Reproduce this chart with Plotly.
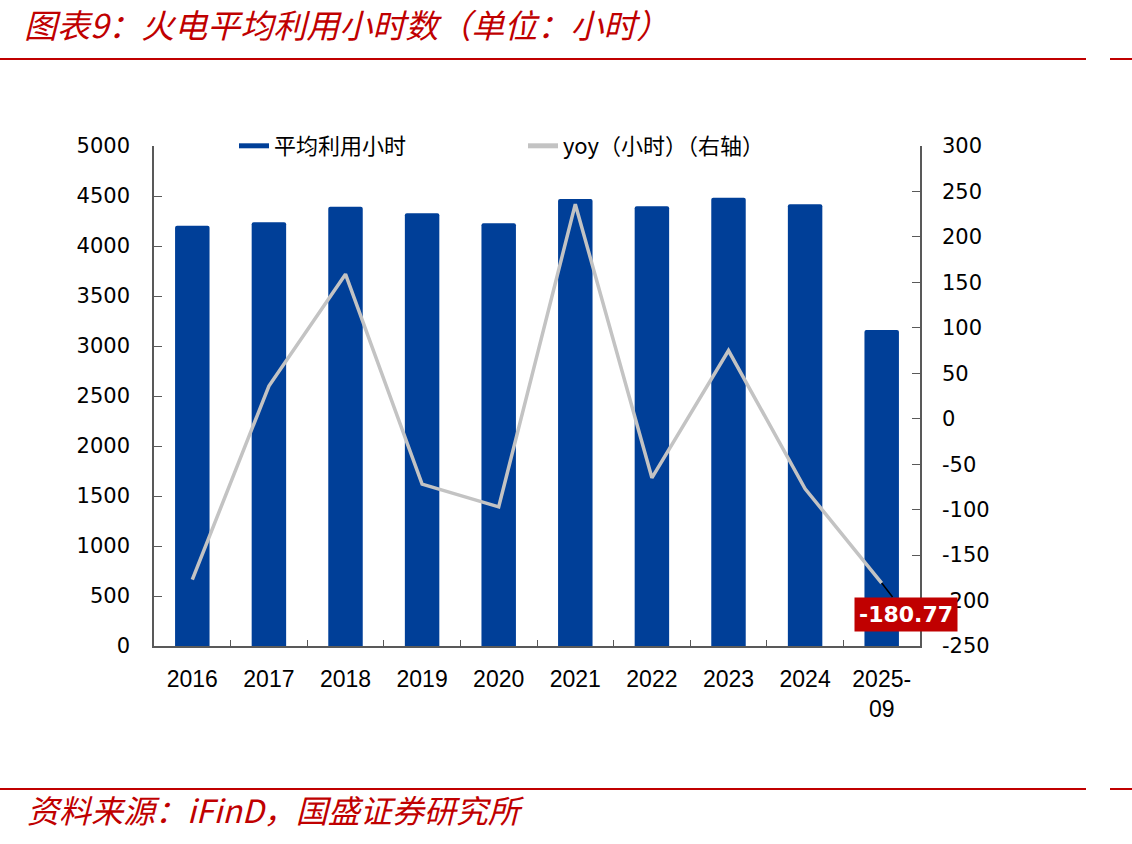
import plotly.graph_objects as go

categories = ["2016", "2017", "2018", "2019", "2020", "2021", "2022", "2023", "2024", "2025-09"]
tick_text = ["2016", "2017", "2018", "2019", "2020", "2021", "2022", "2023", "2024", "2025-<br>09"]
hours = [4203, 4237, 4393, 4327, 4227, 4470, 4397, 4483, 4417, 3160]
yoy = [-177, 36, 159, -72, -97, 236, -65, 75, -77, -180.77]
y2_ticks = [-250, -200, -150, -100, -50, 0, 50, 100, 150, 200, 250, 300]
y2_text = ["-250", "-200", "-150", "-100", "-50", "0", "50", "100", "150", "200", "250", "300"]

BLUE = "#003F98"
GRAY = "#C3C3C3"
RED = "#C00000"
AX = "#595959"
NUM_FONT = "DejaVu Sans, Verdana, sans-serif"
XFONT = "Liberation Sans, Arial, sans-serif"
CJK = "Noto Sans CJK SC, sans-serif"

W, H = 1132, 844
ml, mr, mt, mb = 154, 212, 146, 198
pw, ph = W - ml - mr, H - mt - mb


def px_x(p):
    return (p - ml) / pw


def px_y(p):
    return (H - mb - p) / ph


fig = go.Figure()
fig.add_trace(go.Bar(
    x=categories, y=hours, name="平均利用小时", showlegend=False,
    marker=dict(color=BLUE, cornerradius=2, line=dict(width=0)),
    width=0.45, yaxis="y",
))
# legend swatch for bars (wide rectangle as in the reference)
fig.add_trace(go.Scatter(
    x=[None], y=[None], name="平均利用小时", mode="lines",
    line=dict(color=BLUE, width=15), yaxis="y",
))
fig.add_trace(go.Scatter(
    x=categories, y=yoy, name="yoy（小时）（右轴）",
    mode="lines", line=dict(color=GRAY, width=3.5), yaxis="y2",
))

fig.add_annotation(
    x="2025-09", y=yoy[-1], xref="x", yref="y2",
    text="<b>-180.77</b>", showarrow=True, arrowhead=0, arrowwidth=1.5,
    arrowcolor="black", ax=24, ay=31, bgcolor=RED, borderpad=4,
    font=dict(color="white", size=22, family=NUM_FONT),
)

fig.add_annotation(
    x=px_x(22), y=px_y(24), xref="paper", yref="paper",
    text="图表9：火电平均利用小时数（单位：小时）",
    showarrow=False, xanchor="left", yanchor="middle",
    font=dict(family=CJK, size=33, color=RED, style="italic"),
)
fig.add_annotation(
    x=px_x(25), y=px_y(809), xref="paper", yref="paper",
    text="资料来源：iFinD，国盛证券研究所", showarrow=False, xanchor="left", yanchor="middle",
    font=dict(family=CJK, size=32, color=RED, style="italic"),
)

for yy in (59, 789):
    fig.add_shape(type="line", xref="paper", yref="paper", x0=px_x(0), x1=px_x(1086),
                  y0=px_y(yy), y1=px_y(yy), line=dict(color=RED, width=2))
    fig.add_shape(type="line", xref="paper", yref="paper", x0=px_x(1110), x1=px_x(1132),
                  y0=px_y(yy), y1=px_y(yy), line=dict(color=RED, width=2))

fig.update_layout(
    width=W, height=H,
    margin=dict(l=ml, r=mr, t=mt, b=mb, pad=0),
    paper_bgcolor="white", plot_bgcolor="white",
    showlegend=True,
    legend=dict(orientation="h", x=px_x(234), y=1.0, xanchor="left", yanchor="middle",
                font=dict(family=CJK, size=22, color="black"), entrywidth=244,
                bgcolor="rgba(0,0,0,0)", itemsizing="constant", tracegroupgap=0),
    xaxis=dict(
        type="category", categoryorder="array", categoryarray=categories,
        range=[-0.5, len(categories) - 0.5], autorange=False,
        tickmode="array", tickvals=categories, ticktext=tick_text,
        showline=True, linecolor=AX, linewidth=1.5, mirror=False,
        ticks="inside", tickson="boundaries", ticklen=6, tickcolor=AX,
        tickfont=dict(family=XFONT, size=23, color="black"),
        ticklabelstandoff=12, showgrid=False, zeroline=False,
    ),
    yaxis=dict(
        range=[0, 5000], dtick=500, tick0=0, autorange=False,
        showline=True, linecolor=AX, linewidth=1.5,
        ticks="inside", ticklen=8, tickcolor=AX,
        tickfont=dict(family=NUM_FONT, size=21, color="black"),
        ticklabelstandoff=18, showgrid=False, zeroline=False,
    ),
    yaxis2=dict(
        range=[-250, 300], autorange=False, tickmode="array", tickvals=y2_ticks, ticktext=y2_text,
        overlaying="y", side="right",
        showline=True, linecolor=AX, linewidth=1.5,
        ticks="inside", ticklen=8, tickcolor=AX,
        tickfont=dict(family=NUM_FONT, size=21, color="black"),
        ticklabelstandoff=16, showgrid=False, zeroline=False,
    ),
)

fig.write_html("out.html")
